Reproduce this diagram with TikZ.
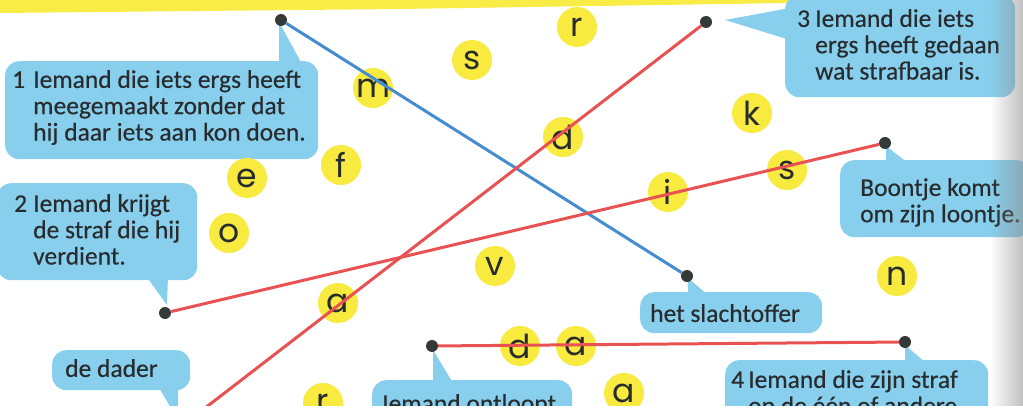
\documentclass[tikz,border=0pt]{standalone}
\usepackage{fontspec}
\setmainfont{Carlito}[FakeBold=0.35]
\newfontfamily\letterfont{Poppins}
\usetikzlibrary{fadings}
\definecolor{bubblecol}{RGB}{135,207,236}
\definecolor{lettercol}{RGB}{248,234,62}
\definecolor{redline}{RGB}{232,82,82}
\definecolor{blueline}{RGB}{70,140,208}
\definecolor{dotcol}{RGB}{52,58,56}
\definecolor{inkcol}{RGB}{40,44,46}
\definecolor{bandcol}{RGB}{250,236,70}
\begin{document}
\begin{tikzpicture}[x=1pt,y=-1pt,
  bubble/.style={fill=bubblecol, rounded corners=14pt, inner sep=0pt, anchor=north west},
  txt/.style={inner sep=0pt, anchor=north west, text=inkcol, align=left,
    font=\fontsize{25.5}{26.3}\selectfont},
  tail/.style={fill=bubblecol},
  letter/.style={circle, fill=lettercol, minimum size=40pt, inner sep=0pt, text=inkcol,
    font=\letterfont\fontsize{33}{33}\selectfont},
  dot/.style={circle, fill=dotcol, minimum size=12pt, inner sep=0pt},
  redcon/.style={draw=redline, line width=3pt},
  bluecon/.style={draw=blueline, line width=3pt}]
\useasboundingbox (0,0) rectangle (1023,409);
\begin{scope}
\clip (0,0) rectangle (1023,405);
% yellow band at the top
\fill[bandcol] (0,0) -- (805,0) -- (790,3) -- (400,9) -- (0,13) -- cycle;
% tails
\fill[tail] (279,22) -- (279,64) -- (302,64) -- cycle;
\fill[tail] (725,20) -- (790,8) -- (790,40) -- cycle;
\fill[tail] (146,276) -- (168,276) -- (167,305) -- cycle;
\fill[tail] (158,386) -- (178,386) -- (178,420) -- cycle;
\fill[tail] (886,146) -- (886,163) -- (908,163) -- cycle;
\fill[tail] (688,278) -- (688,295) -- (708,295) -- cycle;
\fill[tail] (905,345) -- (905,363) -- (926,363) -- cycle;
\fill[tail] (433,350) -- (433,383) -- (453,383) -- cycle;
% bubbles
\node[bubble, minimum width=313pt, minimum height=98pt] (b1) at (5,61) {};
\node[bubble, minimum width=230pt, minimum height=102pt] (b3) at (785,-5) {};
\node[bubble, minimum width=200pt, minimum height=97pt] (b2) at (-3,183) {};
\node[bubble, minimum width=138pt, minimum height=40pt] (b6) at (52,350) {};
\node[bubble, minimum width=190pt, minimum height=77pt] (b5) at (840,160) {};
\node[bubble, minimum width=182pt, minimum height=41pt] (b7) at (640,292) {};
\node[bubble, minimum width=263pt, minimum height=80pt] (b4) at (725,360) {};
\node[bubble, minimum width=200pt, minimum height=60pt] (b8) at (372,380) {};
% texts
\node[txt] (t1) at (12,70)
  {\makebox[21pt][l]{1}Iemand die iets ergs heeft\\\hspace*{21pt}meegemaakt zonder dat\\\hspace*{21pt}hij daar iets aan kon doen.};
\node[txt] (t3) at (797,9)
  {\makebox[18pt][l]{3}Iemand die iets\\\hspace*{18pt}ergs heeft gedaan\\\hspace*{18pt}wat strafbaar is.};
\node[txt] (t2) at (14,194)
  {\makebox[19pt][l]{2}Iemand krijgt\\\hspace*{19pt}de straf die hij\\\hspace*{19pt}verdient.};
\node[txt] (t6) at (65,359) {de dader};
\node[txt] (t5) at (860,178) {Boontje komt\\om zijn loontje.};
\node[txt] (t7) at (650,304) {het slachtoffer};
\node[txt] (t4) at (731,370) {\makebox[17pt][l]{4}Iemand die zijn straf\\\hspace*{17pt}op de één of andere};
\node[txt] (t8) at (382,394) {Iemand ontloopt};
% letters
\node[letter] (l1) at (373,88) {m};
\node[letter] (l2) at (472,60) {s};
\node[letter] (l3) at (577,27) {r};
\node[letter] (l4) at (563,137) {d};
\node[letter] (l5) at (341,165) {f};
\node[letter] (l6) at (247,178) {e};
\node[letter] (l7) at (229,233) {o};
\node[letter] (l8) at (752,113) {k};
\node[letter] (l9) at (668,192) {i};
\node[letter] (l10) at (787,170) {s};
\node[letter] (l11) at (495,266) {v};
\node[letter] (l12) at (338,303) {a};
\node[letter] (l13) at (897,276) {n};
\node[letter] (l14) at (520,346) {d};
\node[letter] (l15) at (576,346) {a};
\node[letter] (l16) at (323,403) {r};
\node[letter] (l17) at (624,393) {a};
% dots
\node[dot] (d1) at (281,20) {};
\node[dot] (d2) at (706,22) {};
\node[dot] (d3) at (885,143) {};
\node[dot] (d4) at (165,313) {};
\node[dot] (d5) at (687,276) {};
\node[dot] (d6) at (432,346) {};
\node[dot] (d7) at (905,342) {};
\coordinate (e2) at (196,415);
% connectors
\draw[bluecon] (d1) -- (d5);
\draw[redcon] (d2) -- (e2);
\draw[redcon] (d4) -- (d3);
\draw[redcon] (d6) -- (d7);
% page shadow on the right
\fill[black!45, path fading=west, fill opacity=0.55] (990,0) rectangle (1023,409);
\end{scope}
\end{tikzpicture}
\end{document}
